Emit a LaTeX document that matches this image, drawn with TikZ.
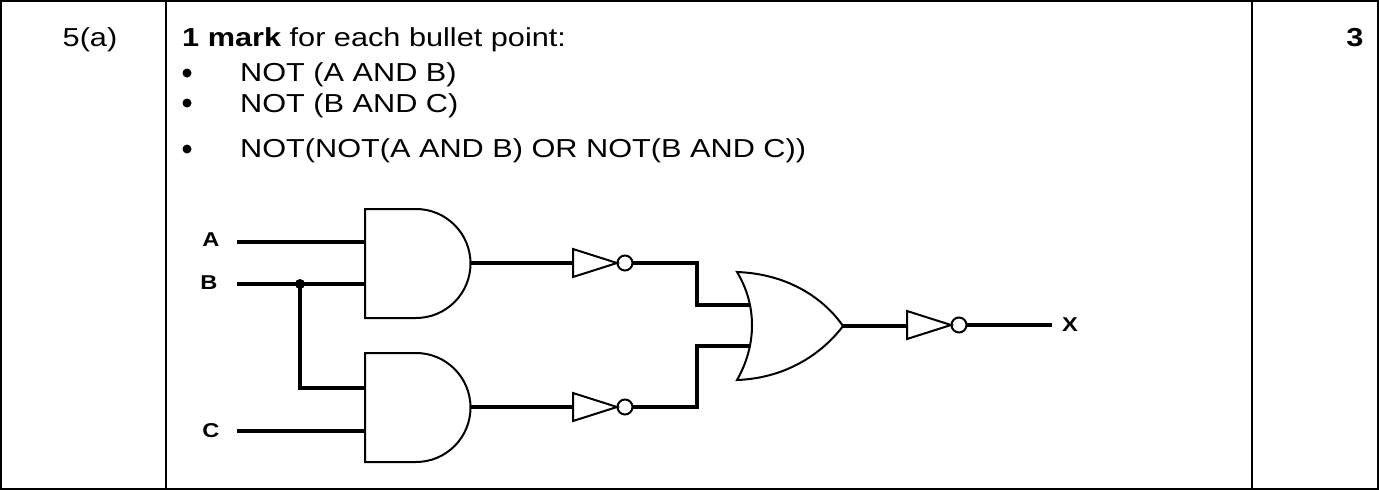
\documentclass[tikz,border=0pt]{standalone}
\usepackage{fontspec}
\setmainfont{Liberation Sans}[FakeStretch=1.18]
\begin{document}
\begin{tikzpicture}[x=1pt,y=-1pt,
  wire/.style={line width=3.5pt},
  gate/.style={line width=2pt},
  lbl/.style={font=\fontsize{20}{20}\selectfont\bfseries},
  txt/.style={font=\fontsize{26}{30}\selectfont,anchor=base west,inner sep=0}]
\useasboundingbox (0,0) rectangle (1379,490);
\draw[line width=1.2pt] (1,1) rectangle (1378,489);
\draw[line width=1.2pt] (166,1) -- (166,489) (1252,1) -- (1252,489);
\node[txt,anchor=base] (q) at (90,46) {5(a)};
\node[txt,anchor=base] (m) at (1355,46) {\textbf{3}};
\node[txt] (h) at (182,46) {\textbf{1 mark} for each bullet point:};
\node[txt] (b1) at (240,81) {NOT (A AND B)};
\node[txt] (b2) at (240,112) {NOT (B AND C)};
\node[txt] (b3) at (240,157) {NOT(NOT(A AND B) OR NOT(B AND C))};
\foreach \y in {73,103,149} \fill (187,\y) circle (4.5);
% labels
\node[lbl] (A) at (211,240) {A};
\node[lbl] (B) at (209,283) {B};
\node[lbl] (C) at (211,431) {C};
\node[lbl] (X) at (1070,325) {X};
% AND gates
\draw[gate] (365,209) -- (416,209) arc[start angle=-90,end angle=90,radius=54.5] -- (365,318) -- cycle;
\draw[gate] (365,353) -- (416,353) arc[start angle=-90,end angle=90,radius=54.5] -- (365,462) -- cycle;
% inputs
\draw[wire] (237,242) -- (365,242);
\draw[wire] (237,284) -- (365,284);
\draw[wire] (237,431) -- (365,431);
\draw[wire] (300,284) -- (300,388) -- (365,388);
\fill (300,284) circle (5);
% inverters
\foreach \x/\y in {573/263,573/407,907/325}{
  \draw[gate] (\x,\y-14) -- (\x+44,\y) -- (\x,\y+14) -- cycle;
  \draw[gate] (\x+52,\y) circle (7.5);
}
\draw[wire] (470,263) -- (573,263);
\draw[wire] (470,407) -- (573,407);
\draw[wire] (632,263) -- (697,263) -- (697,305) -- (750,305);
\draw[wire] (632,407) -- (697,407) -- (697,346) -- (750,346);
% OR gate
\draw[gate] (737,272) .. controls (757,305) and (757,345) .. (737,380)
  .. controls (790,378) and (825,350) .. (843,326)
  .. controls (825,300) and (790,274) .. cycle;
\draw[wire] (843,326) -- (907,326);
\draw[wire] (966,325) -- (1052,325);
\end{tikzpicture}
\end{document}
